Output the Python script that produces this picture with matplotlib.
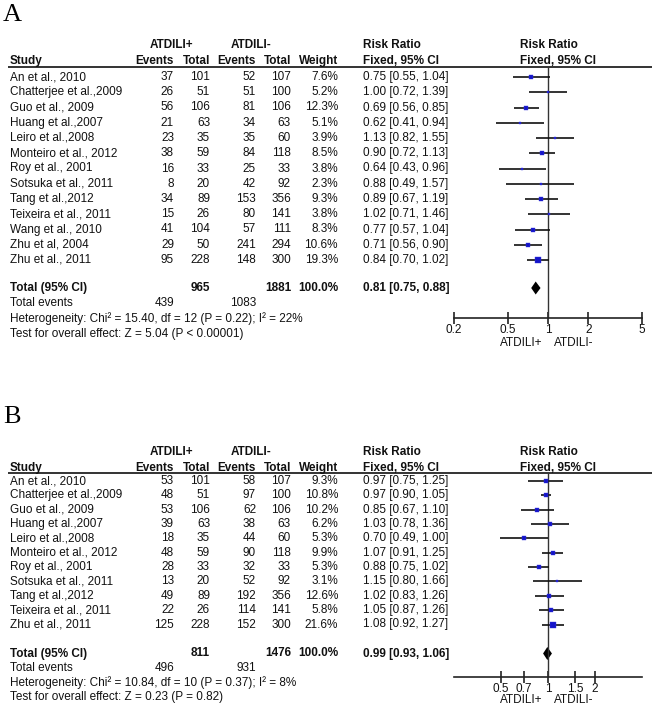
import numpy as np
import matplotlib
matplotlib.use("Agg")
import matplotlib.pyplot as plt

plt.rcParams['font.family'] = ['Liberation Sans', 'DejaVu Sans']

# ---- Panel A data ----
a_studies = ["An et al., 2010", "Chatterjee et al.,2009", "Guo et al., 2009", "Huang et al.,2007",
             "Leiro et al.,2008", "Monteiro et al., 2012", "Roy et al., 2001", "Sotsuka et al., 2011",
             "Tang et al.,2012", "Teixeira et al., 2011", "Wang et al., 2010", "Zhu et al, 2004",
             "Zhu et al., 2011"]
a_ev_pos = [37, 26, 56, 21, 23, 38, 16, 8, 34, 15, 41, 29, 95]
a_n_pos = [101, 51, 106, 63, 35, 59, 33, 20, 89, 26, 104, 50, 228]
a_ev_neg = [52, 51, 81, 34, 35, 84, 25, 42, 153, 80, 57, 241, 148]
a_n_neg = [107, 100, 106, 63, 60, 118, 33, 92, 356, 141, 111, 294, 300]
a_weight = [7.6, 5.2, 12.3, 5.1, 3.9, 8.5, 3.8, 2.3, 9.3, 3.8, 8.3, 10.6, 19.3]
a_rr = [0.75, 1.00, 0.69, 0.62, 1.13, 0.90, 0.64, 0.88, 0.89, 1.02, 0.77, 0.71, 0.84]
a_lo = [0.55, 0.72, 0.56, 0.41, 0.82, 0.72, 0.43, 0.49, 0.67, 0.71, 0.57, 0.56, 0.70]
a_hi = [1.04, 1.39, 0.85, 0.94, 1.55, 1.13, 0.96, 1.57, 1.19, 1.46, 1.04, 0.90, 1.02]
a_total = dict(n_pos=965, n_neg=1881, ev_pos=439, ev_neg=1083, rr=0.81, lo=0.75, hi=0.88,
               het="Heterogeneity: Chi\u00b2 = 15.40, df = 12 (P = 0.22); I\u00b2 = 22%",
               test="Test for overall effect: Z = 5.04 (P < 0.00001)")
a_ticks = [0.2, 0.5, 1, 2, 5]
a_ticklabels = ["0.2", "0.5", "1", "2", "5"]
a_xlim = (0.2, 5)

# ---- Panel B data ----
b_studies = ["An et al., 2010", "Chatterjee et al.,2009", "Guo et al., 2009", "Huang et al.,2007",
             "Leiro et al.,2008", "Monteiro et al., 2012", "Roy et al., 2001", "Sotsuka et al., 2011",
             "Tang et al.,2012", "Teixeira et al., 2011", "Zhu et al., 2011"]
b_ev_pos = [53, 48, 53, 39, 18, 48, 28, 13, 49, 22, 125]
b_n_pos = [101, 51, 106, 63, 35, 59, 33, 20, 89, 26, 228]
b_ev_neg = [58, 97, 62, 38, 44, 90, 32, 52, 192, 114, 152]
b_n_neg = [107, 100, 106, 63, 60, 118, 33, 92, 356, 141, 300]
b_weight = [9.3, 10.8, 10.2, 6.2, 5.3, 9.9, 5.3, 3.1, 12.6, 5.8, 21.6]
b_rr = [0.97, 0.97, 0.85, 1.03, 0.70, 1.07, 0.88, 1.15, 1.02, 1.05, 1.08]
b_lo = [0.75, 0.90, 0.67, 0.78, 0.49, 0.91, 0.75, 0.80, 0.83, 0.87, 0.92]
b_hi = [1.25, 1.05, 1.10, 1.36, 1.00, 1.25, 1.02, 1.66, 1.26, 1.26, 1.27]
b_total = dict(n_pos=811, n_neg=1476, ev_pos=496, ev_neg=931, rr=0.99, lo=0.93, hi=1.06,
               het="Heterogeneity: Chi\u00b2 = 10.84, df = 10 (P = 0.37); I\u00b2 = 8%",
               test="Test for overall effect: Z = 0.23 (P = 0.82)")
b_ticks = [0.5, 0.7, 1, 1.5, 2]
b_ticklabels = ["0.5", "0.7", "1", "1.5", "2"]
b_xlim = (0.25, 4)

W, H = 652, 706
FS = 8.5
TXT = '#111111'
BLUE = '#1414c8'

fig = plt.figure(figsize=(W / 100, H / 100), dpi=100)
tab = fig.add_axes([0, 0, 1, 1])
tab.set_xlim(0, W)
tab.set_ylim(H, 0)
tab.axis('off')


def draw_panel(letter, letter_y, head_y, line_y, y0, dy, tot_gap, axis_y, lab_off,
               studies, ev_pos, n_pos, ev_neg, n_neg, weight, rr, lo, hi, tot,
               ticks, ticklabels, xlim, box_k):
    t = dict(fontsize=FS, color=TXT, va='center')
    tab.text(3, letter_y, letter, fontsize=19, family='Liberation Serif', va='baseline', ha='left')

    # headers
    tab.text(172, head_y, "ATDILI+", ha='center', weight='bold', **t)
    tab.text(251, head_y, "ATDILI-", ha='center', weight='bold', **t)
    tab.text(363, head_y, "Risk Ratio", ha='left', weight='bold', **t)
    tab.text(520, head_y, "Risk Ratio", ha='left', weight='bold', **t)
    sub_y = head_y + 16
    tab.text(10, sub_y, "Study", ha='left', weight='bold', **t)
    tab.text(174, sub_y, "Events", ha='right', weight='bold', **t)
    tab.text(210, sub_y, "Total", ha='right', weight='bold', **t)
    tab.text(256, sub_y, "Events", ha='right', weight='bold', **t)
    tab.text(291, sub_y, "Total", ha='right', weight='bold', **t)
    tab.text(338, sub_y, "Weight", ha='right', weight='bold', **t)
    tab.text(363, sub_y, "Fixed, 95% CI", ha='left', weight='bold', **t)
    tab.text(520, sub_y, "Fixed, 95% CI", ha='left', weight='bold', **t)
    tab.plot([8, W], [line_y, line_y], color='#333333', lw=1.4, solid_capstyle='butt')

    n = len(studies)
    for i in range(n):
        y = y0 + i * dy
        tab.text(10, y, studies[i], ha='left', **t)
        tab.text(174, y, str(ev_pos[i]), ha='right', **t)
        tab.text(210, y, str(n_pos[i]), ha='right', **t)
        tab.text(256, y, str(ev_neg[i]), ha='right', **t)
        tab.text(291, y, str(n_neg[i]), ha='right', **t)
        tab.text(338, y, "%.1f%%" % weight[i], ha='right', **t)
        tab.text(363, y, "%.2f [%.2f, %.2f]" % (rr[i], lo[i], hi[i]), ha='left', **t)

    ty = y0 + (n - 1) * dy + tot_gap
    tab.text(10, ty, "Total (95% CI)", ha='left', weight='bold', **t)
    tab.text(210, ty, str(tot['n_pos']), ha='right', weight='bold', **t)
    tab.text(291, ty, str(tot['n_neg']), ha='right', weight='bold', **t)
    tab.text(338, ty, "100.0%", ha='right', weight='bold', **t)
    tab.text(363, ty, "%.2f [%.2f, %.2f]" % (tot['rr'], tot['lo'], tot['hi']), ha='left',
             weight='bold', **t)
    tab.text(10, ty + dy, "Total events", ha='left', **t)
    tab.text(174, ty + dy, str(tot['ev_pos']), ha='right', **t)
    tab.text(256, ty + dy, str(tot['ev_neg']), ha='right', **t)
    tab.text(10, ty + 2 * dy, tot['het'], ha='left', **t)
    tab.text(10, ty + 3 * dy, tot['test'], ha='left', **t)

    # forest axes, y in pixel rows
    left_px, right_px = 454, 642
    ax = fig.add_axes([left_px / W, 1 - axis_y / H, (right_px - left_px) / W, (axis_y - line_y) / H])
    ax.set_xscale('log')
    ax.set_xlim(*xlim)
    ax.set_ylim(axis_y, line_y)
    ax.patch.set_alpha(0)
    for s in ['top', 'left', 'right']:
        ax.spines[s].set_visible(False)
    ax.spines['bottom'].set_color('#222222')
    ax.spines['bottom'].set_linewidth(1.2)
    ax.set_yticks([])
    ax.set_xticks(ticks)
    ax.set_xticklabels(ticklabels)
    ax.minorticks_off()
    ax.tick_params(axis='x', direction='inout', length=9, width=1.2, color='#222222',
                   labelsize=FS, labelcolor=TXT, pad=0)
    ax.axvline(1, color='#333333', lw=1.0)

    for i in range(n):
        y = y0 + i * dy
        ax.plot([lo[i], hi[i]], [y, y], color='#111111', lw=1.2, solid_capstyle='butt')
        side = box_k * np.sqrt(weight[i]) + 0.4
        ax.plot(rr[i], y, marker='s', ms=side / 1.389, color=BLUE, mec='#3a3ae0', mew=0.3)

    hh = 6.5
    ax.fill([tot['lo'], tot['rr'], tot['hi'], tot['rr']], [ty, ty - hh, ty, ty + hh],
            color='black', lw=0)

    off_pt = -lab_off * 0.72
    ax.annotate("ATDILI+", xy=(1, 0), xycoords=('data', 'axes fraction'), xytext=(-4, off_pt),
                textcoords='offset points', ha='right', va='center', fontsize=FS, color=TXT,
                annotation_clip=False)
    ax.annotate("ATDILI-", xy=(1, 0), xycoords=('data', 'axes fraction'), xytext=(4, off_pt),
                textcoords='offset points', ha='left', va='center', fontsize=FS, color=TXT,
                annotation_clip=False)


draw_panel("A", 21, 45, 67, 77, 15.25, 28, 318, 25,
           a_studies, a_ev_pos, a_n_pos, a_ev_neg, a_n_neg, a_weight, a_rr, a_lo, a_hi, a_total,
           a_ticks, a_ticklabels, a_xlim, 1.1)
draw_panel("B", 423, 452, 473, 481, 14.35, 29, 677, 23,
           b_studies, b_ev_pos, b_n_pos, b_ev_neg, b_n_neg, b_weight, b_rr, b_lo, b_hi, b_total,
           b_ticks, b_ticklabels, b_xlim, 1.2)

fig.savefig("out.png", dpi=100)
